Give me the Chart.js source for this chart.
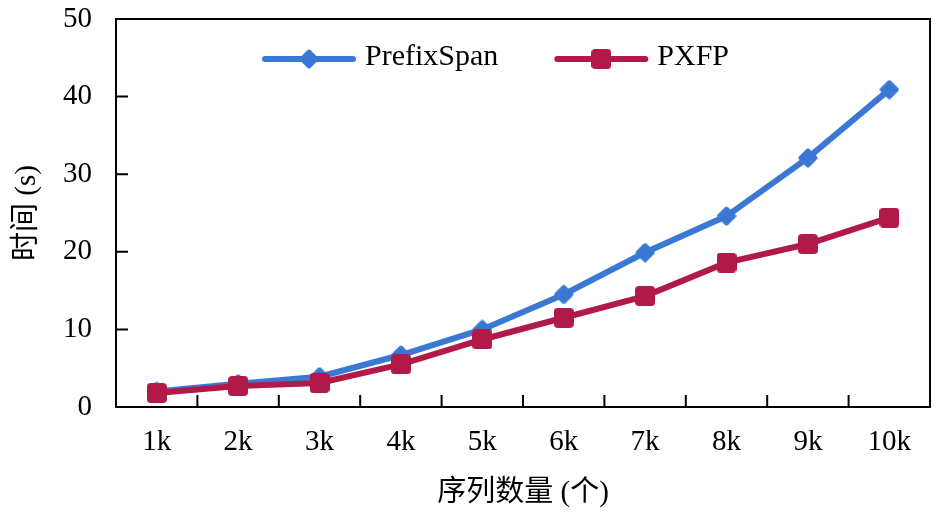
<!DOCTYPE html>
<html>
<head>
<meta charset="utf-8">
<script src="https://cdn.jsdelivr.net/npm/chart.js@4/dist/chart.umd.min.js"></script>
<style>
  html, body { margin: 0; padding: 0; background: #ffffff; }
  canvas { display: block; }
</style>
</head>
<body>
<canvas id="c" width="946" height="513"></canvas>
<script>
// ---- data ----
const categories = ['1k', '2k', '3k', '4k', '5k', '6k', '7k', '8k', '9k', '10k'];
const prefixSpan = [2.0, 3.0, 3.9, 6.7, 10.0, 14.5, 19.9, 24.6, 32.1, 40.9];
const pxfp = [1.8, 2.7, 3.1, 5.5, 8.7, 11.5, 14.3, 18.6, 21.0, 24.4];
const yTicks = [0, 10, 20, 30, 40, 50];
const seriesNames = ['PrefixSpan', 'PXFP'];
const xTitle = '序列数量 (个)';
const yTitle = '时间 (s)';

const BLUE = '#3a78d4';
const RED = '#b11a48';
const SERIF = '"Liberation Serif", "Times New Roman", "Noto Sans CJK SC", serif';
const TITLE_FONT = '"Liberation Serif", "Noto Sans CJK SC", serif';

function diamondMarker(color) {
  const c = document.createElement('canvas');
  c.width = 20; c.height = 20;
  const g = c.getContext('2d');
  g.fillStyle = color; g.strokeStyle = color;
  g.lineWidth = 4; g.lineJoin = 'round';
  g.beginPath();
  g.moveTo(10, 2.5); g.lineTo(17.5, 10); g.lineTo(10, 17.5); g.lineTo(2.5, 10); g.closePath();
  g.fill(); g.stroke();
  return c;
}
function squareMarker(color) {
  const c = document.createElement('canvas');
  c.width = 20; c.height = 20;
  const g = c.getContext('2d');
  g.fillStyle = color;
  g.beginPath();
  if (g.roundRect) g.roundRect(0, 0, 20, 20, 4); else g.rect(0, 0, 20, 20);
  g.fill();
  return c;
}
const blueMarker = diamondMarker(BLUE);
const redMarker = squareMarker(RED);

// frame + inward ticks
const framePlugin = {
  id: 'frame',
  afterDatasetsDraw(chart) {
    const {ctx, chartArea: a, scales} = chart;
    const xs = scales.x, ys = scales.y;
    ctx.save();
    ctx.strokeStyle = '#000';
    ctx.lineWidth = 2;
    ctx.strokeRect(a.left, a.top, a.right - a.left, a.bottom - a.top);
    ctx.beginPath();
    for (let i = 0; i < categories.length - 1; i++) {
      const px = (xs.getPixelForValue(i) + xs.getPixelForValue(i + 1)) / 2;
      ctx.moveTo(px, a.bottom);
      ctx.lineTo(px, a.bottom - 12);
    }
    yTicks.forEach(v => {
      if (v === yTicks[0] || v === yTicks[yTicks.length - 1]) return;
      const py = ys.getPixelForValue(v);
      ctx.moveTo(a.left, py);
      ctx.lineTo(a.left + 12, py);
    });
    ctx.stroke();
    ctx.restore();
  }
};

// legend inside plot area: line + marker + label
const legendPlugin = {
  id: 'innerLegend',
  afterDraw(chart) {
    const {ctx, chartArea: a} = chart;
    const lineLen = 92, textGap = 10, itemGap = 57;
    const cy = a.top + 40;
    let x = a.left + 147;
    ctx.save();
    ctx.font = '30px ' + SERIF;
    ctx.textBaseline = 'middle';
    ctx.fillStyle = '#000';
    chart.data.datasets.forEach(ds => {
      ctx.strokeStyle = ds.borderColor;
      ctx.lineWidth = 6;
      ctx.lineCap = 'round';
      ctx.beginPath();
      ctx.moveTo(x + 2, cy);
      ctx.lineTo(x + lineLen - 2, cy);
      ctx.stroke();
      const m = ds.pointStyle;
      ctx.drawImage(m, x + lineLen / 2 - m.width / 2, cy - m.height / 2);
      const tx = x + lineLen + textGap;
      ctx.fillText(ds.label, tx, cy - 2);
      x = tx + ctx.measureText(ds.label).width + itemGap;
    });
    ctx.restore();
  }
};

new Chart(document.getElementById('c'), {
  type: 'line',
  data: {
    labels: categories,
    datasets: [
      {
        label: seriesNames[0],
        data: prefixSpan,
        borderColor: BLUE,
        backgroundColor: BLUE,
        borderWidth: 6,
        pointStyle: blueMarker,
        pointRadius: 10,
        tension: 0,
        order: 1
      },
      {
        label: seriesNames[1],
        data: pxfp,
        borderColor: RED,
        backgroundColor: RED,
        borderWidth: 6,
        pointStyle: redMarker,
        pointRadius: 10,
        tension: 0,
        order: 0
      }
    ]
  },
  options: {
    responsive: false,
    animation: false,
    devicePixelRatio: 1,
    layout: { padding: { top: 19, right: 14, left: 0, bottom: 0 } },
    plugins: { legend: { display: false }, tooltip: { enabled: false } },
    scales: {
      x: {
        type: 'category',
        offset: true,
        grid: { display: false, drawTicks: false },
        border: { display: false },
        ticks: { color: '#000', font: { family: SERIF, size: 29 }, padding: 18, maxRotation: 0 },
        title: { display: true, text: xTitle, color: '#000', font: { family: TITLE_FONT, size: 29 }, padding: { top: 0, bottom: 2 } },
        afterFit(s) { s.height = 106; s.paddingLeft = 0; s.paddingRight = 0; }
      },
      y: {
        min: 0, max: 50,
        afterBuildTicks(s) { s.ticks = yTicks.map(v => ({ value: v })); },
        grid: { display: false, drawTicks: false },
        border: { display: false },
        ticks: { color: '#000', font: { family: SERIF, size: 29 }, padding: 24 },
        title: { display: true, text: yTitle, color: '#000', font: { family: TITLE_FONT, size: 29 }, padding: { top: 10, bottom: 0 } },
        afterFit(s) { s.width = 116; s.paddingTop = 0; s.paddingBottom = 0; }
      }
    }
  },
  plugins: [framePlugin, legendPlugin]
});
</script>
</body>
</html>
